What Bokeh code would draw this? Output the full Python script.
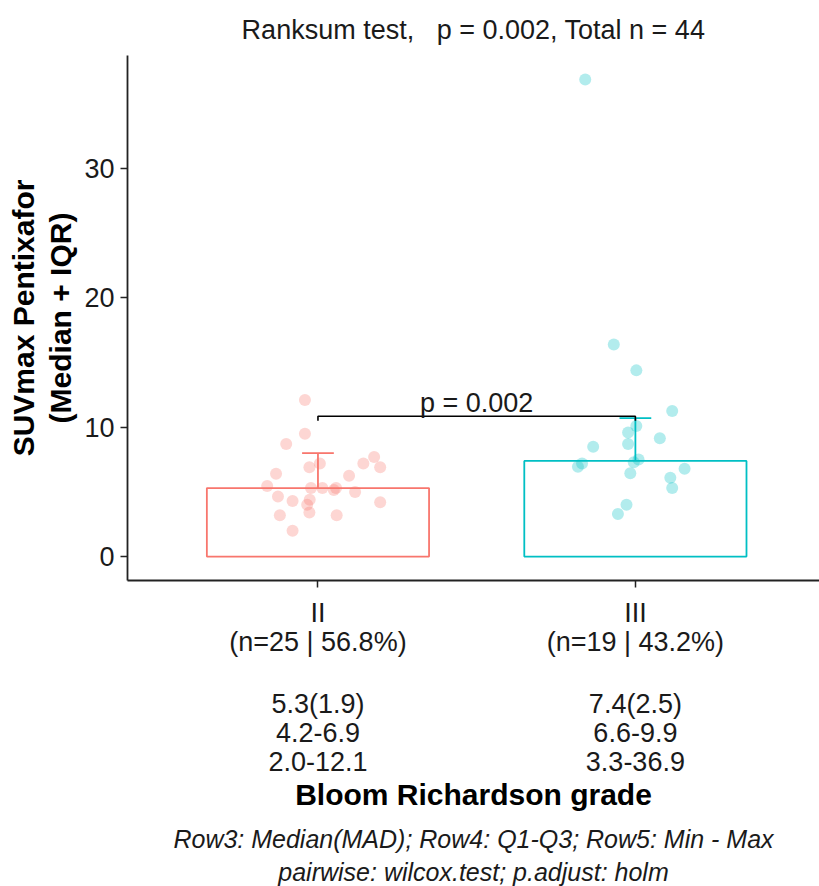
from bokeh.plotting import figure
from bokeh.models import Range1d, FixedTicker, LinearAxis, Title, ColumnDataSource
from bokeh.core.properties import value
from bokeh.embed import file_html
from bokeh.resources import INLINE

# ---------------- data ----------------
categories = ["II", "III"]
group_colors = ["#F8766D", "#00BFC4"]
n_counts = [25, 19]
medians = [5.3, 7.4]
mads = [1.9, 2.5]
q1 = [4.2, 6.6]
q3 = [6.9, 9.9]
mins = [2.0, 3.3]
maxs = [12.1, 36.9]

values_II = [12.1, 9.5, 8.7, 7.2, 6.9, 6.4, 7.2, 7.7, 6.9, 6.25, 5.45, 5.3, 5.3,
             5.15, 5.3, 4.65, 4.3, 4.4, 4.0, 5.0, 4.2, 3.2, 3.4, 3.2, 2.0]
jitter_II = [-0.041, -0.041, -0.100, 0.006, -0.027, -0.132, 0.143, 0.177, 0.196,
             0.098, -0.160, -0.022, 0.014, 0.050, 0.057, -0.126, -0.080, -0.026,
             -0.034, 0.117, 0.196, -0.120, -0.027, 0.059, -0.080]
values_III = [36.9, 16.4, 14.4, 11.25, 10.1, 9.6, 9.15, 8.7, 8.5, 7.2, 6.95, 7.3,
              7.5, 6.45, 6.8, 6.1, 5.3, 4.0, 3.3]
jitter_III = [-0.158, -0.068, 0.003, 0.116, 0.003, -0.023, 0.077, -0.023, -0.133,
              -0.168, -0.181, -0.005, 0.010, -0.016, 0.155, 0.110, 0.116, -0.028,
              -0.055]

p_value_text = "p = 0.002"
title_text = "Ranksum test,\u00a0\u00a0 p = 0.002, Total n = 44"
y_ticks = [0, 10, 20, 30]
caption_1 = "Row3: Median(MAD); Row4: Q1-Q3; Row5: Min - Max"
caption_2 = "pairwise: wilcox.test; p.adjust: holm"

FONT = "Liberation Sans"
TXT = "#1a1a1a"
total_n = sum(n_counts)
xpos = [i + 1 for i in range(len(categories))]

p = figure(width=819, height=886, output_backend="svg", toolbar_location=None,
           x_range=Range1d(0.4, 2.58), y_range=Range1d(-1.85, 38.75),
           min_border_left=127, min_border_right=0, min_border_top=55,
           min_border_bottom=306)
p.background_fill_color = "white"
p.border_fill_color = "white"
p.outline_line_color = None
p.grid.visible = False

# title
p.title.text = title_text
p.title.align = "center"
p.title.text_font = FONT
p.title.text_font_size = "27px"
p.title.text_font_style = "normal"
p.title.text_color = TXT
p.title.standoff = 21

# bars
p.vbar(x=xpos, top=medians, bottom=0, width=0.7, fill_color="white",
       line_color=group_colors, line_width=1.8)

# error bars (median -> median + IQR)
upper = [m + (b - a) for m, a, b in zip(medians, q1, q3)]
p.segment(x0=xpos, y0=medians, x1=xpos, y1=upper, line_color=group_colors, line_width=1.8)
p.segment(x0=[x - 0.05 for x in xpos], y0=upper, x1=[x + 0.05 for x in xpos], y1=upper,
          line_color=group_colors, line_width=1.8)

# points
for i, (vals, jit) in enumerate([(values_II, jitter_II), (values_III, jitter_III)]):
    src = ColumnDataSource(dict(x=[xpos[i] + j for j in jit], y=vals))
    p.scatter("x", "y", source=src, size=12, fill_color=group_colors[i], fill_alpha=0.3,
              line_color=None)

# significance bracket
top_y = max(upper) + 0.15
p.line(x=[xpos[0], xpos[0], xpos[1], xpos[1]], y=[top_y - 0.35, top_y, top_y, top_y - 0.35],
       line_color="black", line_width=1.6)
p.text(x=[(xpos[0] + xpos[1]) / 2], y=[top_y], text=[p_value_text], text_align="center",
       text_baseline="bottom", y_offset=2, text_font=value(FONT), text_font_size="27px",
       text_color=TXT)

# y axis
ya = p.yaxis[0]
ya.ticker = FixedTicker(ticks=y_ticks)
ya.axis_label = "SUVmax Pentixafor\n(Median + IQR)"
ya.axis_label_text_font = FONT
ya.axis_label_text_font_style = "bold"
ya.axis_label_text_font_size = "30px"
ya.axis_label_text_line_height = 1.12
ya.axis_label_text_color = "black"
ya.axis_label_standoff = 4
ya.major_label_text_font = FONT
ya.major_label_text_font_size = "27px"
ya.major_label_text_color = TXT
ya.major_label_standoff = 6
ya.axis_line_width = 1.8
ya.axis_line_color = "#222222"
ya.major_tick_line_color = "#222222"
ya.major_tick_line_width = 1.5
ya.major_tick_out = 7
ya.major_tick_in = 0
ya.minor_tick_line_color = None

# x axis: category + counts
xa = p.xaxis[0]
xa.ticker = FixedTicker(ticks=xpos)
xa.major_label_overrides = {
    x: f"{c}\n(n={n} | {100 * n / total_n:.1f}%)" for x, c, n in zip(xpos, categories, n_counts)}
xa.major_label_text_font = FONT
xa.major_label_text_font_size = "27px"
xa.major_label_text_color = TXT
xa.major_label_text_line_height = 0.97
xa.major_label_standoff = 10
xa.axis_line_width = 1.8
xa.axis_line_color = "#222222"
xa.major_tick_line_color = "#222222"
xa.major_tick_line_width = 1.5
xa.major_tick_out = 7
xa.major_tick_in = 0
xa.minor_tick_line_color = None

# x axis 2: summary statistics
xb = LinearAxis(ticker=FixedTicker(ticks=xpos))
xb.major_label_overrides = {
    x: f"{m:.1f}({d:.1f})\n{a:.1f}-{b:.1f}\n{lo:.1f}-{hi:.1f}"
    for x, m, d, a, b, lo, hi in zip(xpos, medians, mads, q1, q3, mins, maxs)}
xb.major_label_text_font = FONT
xb.major_label_text_font_size = "27px"
xb.major_label_text_color = TXT
xb.major_label_text_line_height = 0.97
xb.major_label_standoff = 29
xb.axis_line_color = None
xb.major_tick_line_color = None
xb.minor_tick_line_color = None
xb.major_tick_out = 0
xb.major_tick_in = 0
xb.axis_label = "Bloom Richardson grade"
xb.axis_label_text_font = FONT
xb.axis_label_text_font_style = "bold"
xb.axis_label_text_font_size = "30px"
xb.axis_label_text_color = "black"
xb.axis_label_standoff = -2
p.add_layout(xb, "below")

cap1 = Title(text=caption_1, align="center", text_font=FONT, text_font_size="25px",
             text_font_style="italic", text_color=TXT, standoff=19)
cap2 = Title(text=caption_2, align="center", text_font=FONT, text_font_size="25px",
             text_font_style="italic", text_color=TXT, standoff=-14)
p.add_layout(cap1, "below")
p.add_layout(cap2, "below")

open("out.html", "w").write(file_html(p, INLINE))
